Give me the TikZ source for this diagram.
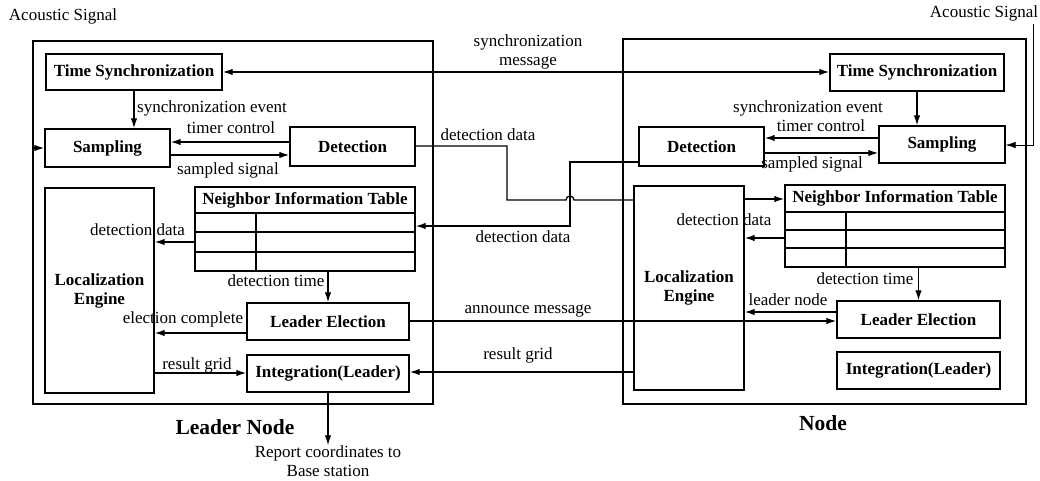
\documentclass[tikz,border=0pt]{standalone}
\usepackage{fontspec}
\setmainfont{Liberation Serif}
\usetikzlibrary{arrows.meta}
\tikzset{
  box/.style={draw, line width=1.4pt, inner sep=0pt, font=\bfseries\fontsize{17}{19}\selectfont, align=center},
  outerbox/.style={draw, line width=2.8pt, inner sep=0pt},
  lbl/.style={inner sep=0pt, font=\fontsize{17}{19}\selectfont, align=center},
  arr/.style={line width=1.3pt, -{Latex[length=10pt,width=6.5pt]}},
  dblarr/.style={line width=1.3pt, {Latex[length=10pt,width=6.5pt]}-{Latex[length=10pt,width=6.5pt]}},
  ln/.style={line width=1.3pt},
  tline/.style={line width=1.4pt},
  big/.style={inner sep=0pt, font=\bfseries\fontsize{21.5}{24}\selectfont},
}
\begin{document}
\begin{tikzpicture}[x=1pt,y=-1pt]
\useasboundingbox (0,0) rectangle (1040,481);
% outer boxes
\node[outerbox, minimum width=400pt, minimum height=363pt] (lOuter) at (233,222.5) {};
\node[outerbox, minimum width=403pt, minimum height=365pt] (rOuter) at (824.5,221.5) {};
% left node
\node[box, minimum width=176pt, minimum height=36pt] (lTS) at (134,72) {Time Synchronization};
\node[box, minimum width=125pt, minimum height=38pt] (lSam) at (107.5,148) {Sampling};
\node[box, minimum width=125pt, minimum height=39pt] (lDet) at (352.5,146.5) {Detection};
\node[box, minimum width=109pt, minimum height=205pt] (lLoc) at (99.5,290.5) {Localization\\Engine};
\node[box, minimum width=220pt, minimum height=84pt] (lTab) at (305,229) {};
\node[box, draw=none] (lTabH) at (305,200) {Neighbor Information Table};
\draw[tline] (lTab.west |- 0,213) -- (lTab.east |- 0,213);
\draw[tline] (lTab.west |- 0,232) -- (lTab.east |- 0,232);
\draw[tline] (lTab.west |- 0,252) -- (lTab.east |- 0,252);
\draw[tline] (256,213) -- (lTab.south -| 256,0);
\node[box, minimum width=162pt, minimum height=37pt] (lLE) at (328,321.5) {Leader Election};
\node[box, minimum width=162pt, minimum height=37pt] (lInt) at (328,373.5) {Integration(Leader)};
% right node
\node[box, minimum width=174pt, minimum height=37pt] (rTS) at (917,72.5) {Time Synchronization};
\node[box, minimum width=126pt, minimum height=37pt] (rSam) at (942,144.5) {Sampling};
\node[box, minimum width=125pt, minimum height=39pt] (rDet) at (701.5,146.5) {Detection};
\node[box, minimum width=110pt, minimum height=204pt] (rLoc) at (689,288) {Localization\\Engine};
\node[box, minimum width=220pt, minimum height=82pt] (rTab) at (895,226) {};
\node[box, draw=none] (rTabH) at (895,198.5) {Neighbor Information Table};
\draw[tline] (rTab.west |- 0,212) -- (rTab.east |- 0,212);
\draw[tline] (rTab.west |- 0,230) -- (rTab.east |- 0,230);
\draw[tline] (rTab.west |- 0,248) -- (rTab.east |- 0,248);
\draw[tline] (846,212) -- (rTab.south -| 846,0);
\node[box, minimum width=163pt, minimum height=37pt] (rLE) at (918.5,319.5) {Leader Election};
\node[box, minimum width=163pt, minimum height=37pt] (rInt) at (918.5,370.5) {Integration(Leader)};
% titles
\node[lbl] (lAc) at (63,16) {Acoustic Signal};
\node[lbl] (rAcT) at (984,13) {Acoustic Signal};
\node[big] (lTitle) at (235,427) {Leader Node};
\node[big] (rTitle) at (823,423) {Node};
\node[lbl] (rep) at (328,461) {Report coordinates to\\Base station};
% left internal connectors
\draw[arr] (lTS.south) -- (lTS.south |- lSam.north);
\node[lbl, anchor=west] (lse) at (137,108) {synchronization event};
\draw[arr] (lDet.west |- 0,142) -- (lSam.east |- 0,142);
\node[lbl] (ltc) at (231,128) {timer control};
\draw[arr] (lSam.east |- 0,155) -- (lDet.west |- 0,155);
\node[lbl] (lss) at (228,170) {sampled signal};
\draw[arr] (lOuter.west |- lSam.west) -- (lSam.west);
\draw[arr] (lTab.west |- 0,242) -- (lLoc.east |- 0,242);
\node[lbl] (ldd) at (137.5,230) {detection data};
\draw[arr] (lLE.north |- lTab.south) -- (lLE.north);
\node[lbl] (ldt) at (276,281) {detection time};
\draw[arr] (lLE.west |- 0,333) -- (lLoc.east |- 0,333);
\node[lbl] (lec) at (183,319) {election complete};
\draw[arr] (lLoc.east |- 0,373) -- (lInt.west |- 0,373);
\node[lbl] (lrg) at (197,365) {result grid};
\draw[arr] (lInt.south) -- (rep.north);
% between nodes
\draw[dblarr] (lTS.east) -- (lTS.east -| rTS.west);
\node[lbl] (smsg) at (528,52) {synchronization\\message};
\draw[ln] (lDet.east |- 0,146) -- (507,146) -- (507,200) -- (566,200) arc[start angle=180, end angle=0, radius=4pt] -- (rLoc.west |- 0,200);
\node[lbl] (mdd1) at (488,135) {detection data};
\draw[arr] (rDet.west |- 0,162) -- (570,162) -- (570,226) -- (lTab.east |- 0,226);
\node[lbl] (mdd2) at (523,237) {detection data};
\draw[arr] (lLE.east |- 0,321) -- (rLE.west |- 0,321);
\node[lbl] (mam) at (528,311) {announce message};
\draw[arr] (rLoc.west |- 0,372) -- (lInt.east |- 0,372);
\node[lbl] (mrg) at (518,355) {result grid};
% right internal connectors
\draw[arr] (rTS.south) -- (rTS.south |- rSam.north);
\node[lbl] (rse) at (808,108) {synchronization event};
\draw[arr] (rSam.west |- 0,138) -- (rDet.east |- 0,138);
\node[lbl] (rtc) at (821,126) {timer control};
\draw[arr] (rDet.east |- 0,153) -- (rSam.west |- 0,153);
\node[lbl] (rss) at (812,164) {sampled signal};
\coordinate (rAc) at (1033,24);
\draw[line width=0.6pt, -{Latex[length=10pt,width=6.5pt]}] (rAc) -- (1033,145) -- (rSam.east |- 0,145);
\draw[arr] (rLoc.east |- 0,199) -- (rTab.west |- 0,199);
\draw[arr] (rTab.west |- 0,238) -- (rLoc.east |- 0,238);
\node[lbl] (rdd) at (724,220) {detection data};
\draw[arr] (rLE.north |- rTab.south) -- (rLE.north);
\node[lbl] (rdt) at (865,279) {detection time};
\draw[arr] (rLE.west |- 0,312) -- (rLoc.east |- 0,312);
\node[lbl] (rln) at (788,300) {leader node};
\end{tikzpicture}
\end{document}
